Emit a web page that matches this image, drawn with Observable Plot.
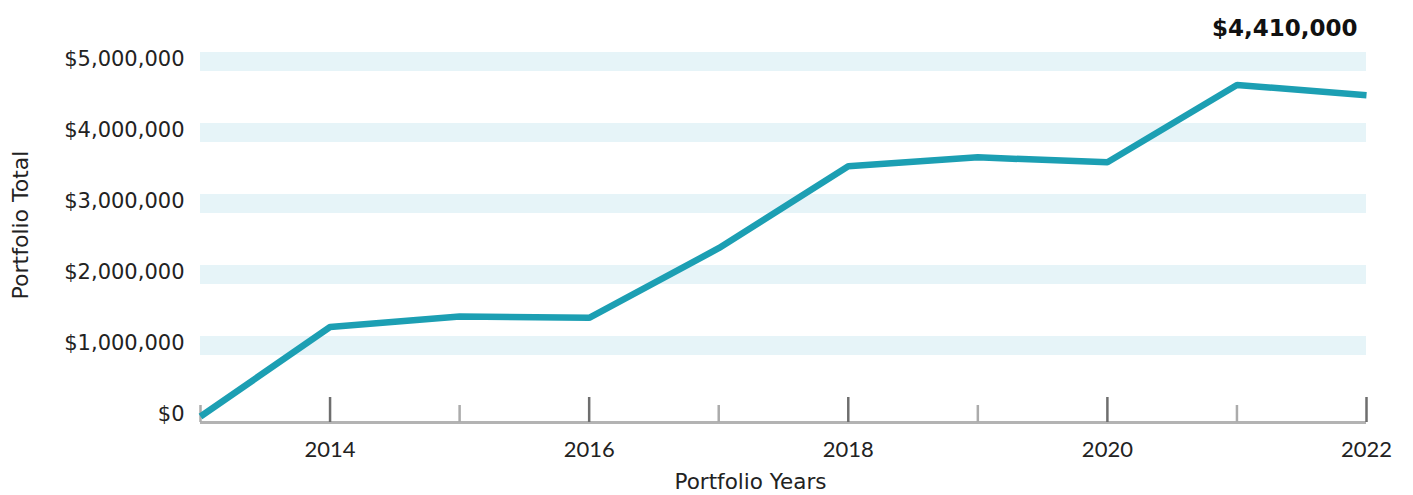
<!DOCTYPE html>
<html>
<head>
<meta charset="utf-8">
<script src="https://cdn.jsdelivr.net/npm/d3@7"></script>
<script src="https://cdn.jsdelivr.net/npm/@observablehq/plot@0.6"></script>
<style>
  html, body { margin: 0; padding: 0; background: #fff; }
  #chart svg { display: block; }
</style>
</head>
<body>
<div id="chart"></div>
<script>
const years = [2013, 2014, 2015, 2016, 2017, 2018, 2019, 2020, 2021, 2022];
const totals = [0, 1260000, 1410000, 1390000, 2370000, 3525000, 3650000, 3580000, 4670000, 4525000];
const majorYears = [2014, 2016, 2018, 2020, 2022];
const minorYears = [2013, 2015, 2017, 2019, 2021];
const yTicks = [0, 1000000, 2000000, 3000000, 4000000, 5000000];
const bandValues = [1000000, 2000000, 3000000, 4000000, 5000000];
const annotation = ["$4,410,000"];
const xTitle = ["Portfolio Years"];
const yTitle = ["Portfolio Total"];

const data = years.map((y, i) => ({year: y, total: totals[i]}));
const wide = "'DejaVu Sans', 'Noto Sans', sans-serif";

const chart = Plot.plot({
  width: 1413,
  height: 495,
  marginLeft: 200,
  marginRight: 47,
  marginTop: 61,
  marginBottom: 79,
  style: {fontFamily: "Lato, sans-serif", color: "#222", background: "#fff"},
  x: {domain: [2013, 2022], axis: null},
  y: {domain: [0, 5000000], axis: null},
  marks: [
    Plot.ruleY(bandValues, {stroke: "#e6f4f8", strokeWidth: 19}),
    Plot.axisY(yTicks, {
      tickSize: 0, tickPadding: 16, fontSize: 21,
      fontFamily: wide, dy: -2,
      tickFormat: d3.format("$,"), label: null, fill: "#222"
    }),
    Plot.ruleY([0], {dy: 6, stroke: "#b3b3b3", strokeWidth: 3}),
    Plot.ruleX(majorYears, {x: d => d, dy: 6, insetTop: 330, stroke: "#6e6e6e", strokeWidth: 2.5}),
    Plot.ruleX(minorYears, {x: d => d, dy: 6, insetTop: 338, stroke: "#ababab", strokeWidth: 2.5}),
    Plot.text(majorYears, {x: d => d, text: d => String(d), frameAnchor: "bottom", lineAnchor: "middle", dy: 33, fontSize: 22, fill: "#222"}),
    Plot.line(data, {x: "year", y: "total", stroke: "#1c9fb3", strokeWidth: 6.5, strokeLinejoin: "miter", strokeLinecap: "butt"}),
    Plot.text(xTitle, {text: d => d, frameAnchor: "bottom", textAnchor: "middle", lineAnchor: "middle", dx: -33, dy: 66, fontSize: 21.5, fontFamily: wide, fill: "#222"}),
    Plot.text(yTitle, {text: d => d, frameAnchor: "left", textAnchor: "middle", lineAnchor: "middle", rotate: -90, dx: -180, dy: -14, fontSize: 22, fontFamily: wide, fill: "#222"}),
    Plot.text(annotation, {text: d => d, frameAnchor: "top-right", textAnchor: "end", lineAnchor: "middle", dx: -9, dy: -33, fontSize: 23, fontWeight: 700, fontFamily: wide, fill: "#111"})
  ]
});
document.getElementById("chart").append(chart);
</script>
</body>
</html>
